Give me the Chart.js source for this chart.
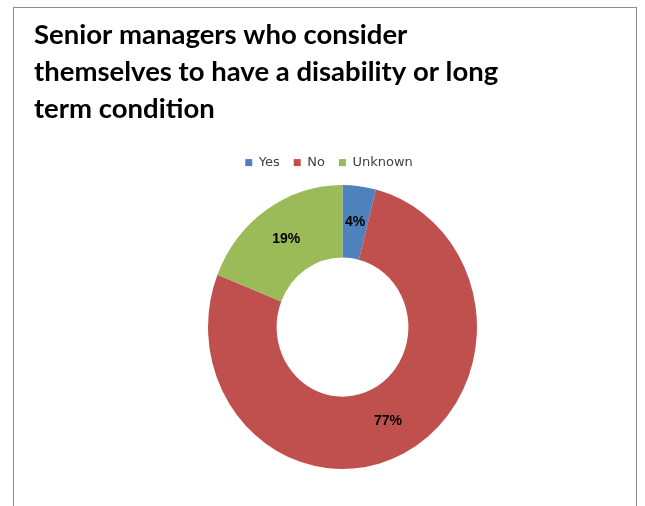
<!DOCTYPE html>
<html>
<head>
<meta charset="utf-8">
<script src="https://cdn.jsdelivr.net/npm/chart.js@4.4.1/dist/chart.umd.min.js"></script>
<style>
  html, body { margin: 0; padding: 0; background: #fff; overflow: hidden; }
  #frame { position: absolute; left: 13px; top: 7px; width: 622px; height: 520px; border: 1px solid #8c8c8c; }
  #chart { display: block; }
</style>
</head>
<body>
<div id="frame"><canvas id="chart" width="622" height="498"></canvas></div>
<script>
const titleLines = ["Senior managers who consider", "themselves to have a disability or long", "term condition"];
const categories = ["Yes", "No", "Unknown"];
const shares = [4, 77, 19];
const colors = ['#4F81BD', '#C0504D', '#9BBB59'];

// the reference donut is slightly squashed sideways
const X_SQUISH = 0.947;

const squishAndLabel = {
  id: 'squishAndLabel',
  beforeDatasetsDraw(chart) {
    const cx = chart.getDatasetMeta(0).data[0].x;
    const ctx = chart.ctx;
    ctx.save();
    ctx.translate(cx, 0);
    ctx.scale(X_SQUISH, 1);
    ctx.translate(-cx, 0);
  },
  afterDatasetsDraw(chart) {
    const ctx = chart.ctx;
    ctx.restore();
    const meta = chart.getDatasetMeta(0);
    ctx.save();
    ctx.font = 'bold 14px "Liberation Sans", Arial, sans-serif';
    ctx.fillStyle = '#000';
    ctx.textAlign = 'center';
    ctx.textBaseline = 'middle';
    meta.data.forEach((arc, i) => {
      const p = arc.tooltipPosition();
      const x = arc.x + (p.x - arc.x) * X_SQUISH;
      ctx.fillText(shares[i] + '%', x, p.y);
    });
    ctx.restore();
  }
};

new Chart(document.getElementById('chart'), {
  type: 'doughnut',
  data: {
    labels: categories,
    datasets: [{ data: shares, backgroundColor: colors, borderWidth: 0, radius: 142, cutout: '49%' }]
  },
  options: {
    responsive: false,
    animation: false,
    layout: { padding: { left: 20, right: 12, top: 0, bottom: 31 } },
    plugins: {
      title: {
        display: true,
        text: titleLines,
        align: 'start',
        color: '#000',
        font: { family: 'Lato, "Liberation Sans", sans-serif', size: 27.5, weight: 'bold', lineHeight: '36.7px' },
        padding: { top: 9, bottom: 15 }
      },
      // empty spacer on the left so the ring sits right of the legend's centre, as in the original
      subtitle: {
        display: true,
        position: 'left',
        fullSize: false,
        text: '',
        padding: 0,
        font: { size: 27, lineHeight: '27px' }
      },
      legend: {
        position: 'top',
        labels: { boxWidth: 7, boxHeight: 7, padding: 14, color: '#404040', font: { family: '"DejaVu Sans", sans-serif', size: 13 } }
      },
      tooltip: { enabled: false }
    }
  },
  plugins: [squishAndLabel]
});
</script>
</body>
</html>
